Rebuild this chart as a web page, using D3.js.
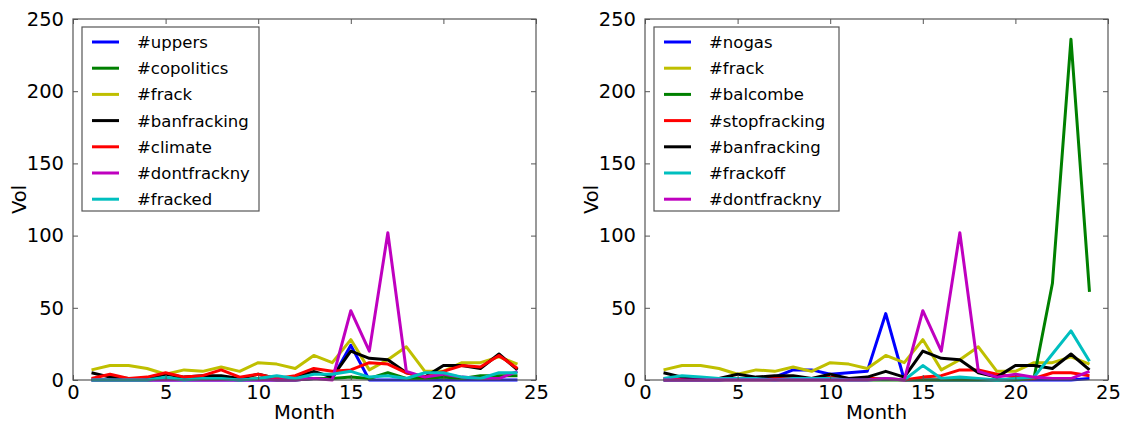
<!DOCTYPE html>
<html>
<head>
<meta charset="utf-8">
<script src="https://cdn.jsdelivr.net/npm/d3@7"></script>
<style>
    body { margin: 0; background: #fff; }
    text { font-family: "DejaVu Sans", sans-serif; }
</style>
</head>
<body>
<script>
document.addEventListener("DOMContentLoaded", function() {

    /* DATA */

    const months = d3.range(1, 25);
    const xTicks = [0, 5, 10, 15, 20, 25];
    const yTicks = [0, 50, 100, 150, 200, 250];

    //Left panel series.
    const uppers = [0,0,0,0,0,0,0,0,0,0,0,0,1,1,24,0,0,0,0,0,0,0,0,0];
    const copolitics = [0,0,0,0,1,1,1,1,0,1,0,0,1,1,2,1,5,1,1,2,1,3,3,3];
    const frack = [7,10,10,8,4,7,6,9,6,12,11,8,17,12,28,7,14,23,6,6,12,12,16,11];
    const banfracking = [5,2,1,1,4,2,3,3,1,4,1,2,6,2,20,15,14,5,2,10,10,8,18,7];
    const climate = [1,4,1,2,5,2,3,7,2,4,1,3,8,6,7,12,11,5,2,6,10,9,17,8];
    const dontfrackny = [0,0,0,0,0,0,0,0,0,0,0,0,1,0,48,20,102,6,2,4,2,1,1,6];
    const fracked = [0,0,0,0,2,0,1,1,0,1,3,1,4,4,6,2,3,1,5,5,2,1,5,5];

    //Right panel series.
    const nogas = [0,0,0,0,1,1,2,7,7,4,5,6,46,0,0,0,0,0,0,0,0,0,0,1];
    const balcombe = [0,0,0,0,0,0,0,0,0,0,0,0,0,0,0,0,0,0,0,0,1,67,236,61];
    const stopfracking = [1,1,1,1,1,1,1,1,1,2,1,1,1,0,2,3,7,7,4,2,1,5,5,3];
    const frackoff = [1,3,2,1,1,1,0,1,1,1,0,0,1,0,10,1,2,1,0,1,2,18,34,13];

    const leftSeries = [
        {name: "#uppers", color: "#0000ff", values: uppers},
        {name: "#copolitics", color: "#008000", values: copolitics},
        {name: "#frack", color: "#bfbf00", values: frack},
        {name: "#banfracking", color: "#000000", values: banfracking},
        {name: "#climate", color: "#ff0000", values: climate},
        {name: "#dontfrackny", color: "#bf00bf", values: dontfrackny},
        {name: "#fracked", color: "#00bfbf", values: fracked}
    ];
    const rightSeries = [
        {name: "#nogas", color: "#0000ff", values: nogas},
        {name: "#frack", color: "#bfbf00", values: frack},
        {name: "#balcombe", color: "#008000", values: balcombe},
        {name: "#stopfracking", color: "#ff0000", values: stopfracking},
        {name: "#banfracking", color: "#000000", values: banfracking},
        {name: "#frackoff", color: "#00bfbf", values: frackoff},
        {name: "#dontfrackny", color: "#bf00bf", values: dontfrackny}
    ];

    /* CONSTANTS */

    const width = 1127;
    const height = 424;
    const top = 19, bottom = 380;
    const tickLen = 5;
    const frameColor = "#555";
    const svg = d3.select("body").append("svg")
    .attr("width", width)
    .attr("height", height);

    /* FUNCTIONS */

    //drawPanel() draws one axes box with its lines, ticks, labels and legend.
    function drawPanel(left, right, series, legendW) {
        const x = d3.scaleLinear().domain([0, 25]).range([left, right]);
        const y = d3.scaleLinear().domain([0, 250]).range([bottom, top]);
        const g = svg.append("g");

        const line = d3.line()
        .x((d, i) => x(months[i]))
        .y((d) => y(d));

        g.selectAll("path.series")
        .data(series)
        .enter()
        .append("path")
        .attr("class", "series")
        .attr("fill", "none")
        .attr("stroke", (d) => d.color)
        .attr("stroke-width", 3)
        .attr("stroke-linejoin", "round")
        .attr("d", (d) => line(d.values));

        //Ticks point inward on all four sides.
        const bottomAxis = g.append("g")
        .attr("transform", `translate(0,${bottom})`)
        .call(d3.axisBottom(x).tickValues(xTicks).tickSizeInner(-tickLen).tickSizeOuter(0).tickPadding(5));
        g.append("g")
        .attr("transform", `translate(0,${top})`)
        .call(d3.axisTop(x).tickValues(xTicks).tickSizeInner(-tickLen).tickSizeOuter(0).tickFormat(""));
        g.append("g")
        .attr("transform", `translate(${left},0)`)
        .call(d3.axisLeft(y).tickValues(yTicks).tickSizeInner(-tickLen).tickSizeOuter(0).tickPadding(9));
        g.append("g")
        .attr("transform", `translate(${right},0)`)
        .call(d3.axisRight(y).tickValues(yTicks).tickSizeInner(-tickLen).tickSizeOuter(0).tickFormat(""));

        g.selectAll(".domain").remove();
        g.selectAll(".tick line").attr("stroke", frameColor);
        g.selectAll(".tick text")
        .attr("fill", "#000")
        .style("font-size", "19.5px")
        .style("font-family", "DejaVu Sans");
        bottomAxis.selectAll(".tick text").attr("dy", "0.71em");

        g.append("rect")
        .attr("x", left)
        .attr("y", top)
        .attr("width", right - left)
        .attr("height", bottom - top)
        .attr("fill", "none")
        .attr("stroke", frameColor)
        .attr("stroke-width", 1.2);

        //Axis titles.
        g.append("text")
        .attr("x", (left + right) / 2)
        .attr("y", 419)
        .attr("text-anchor", "middle")
        .style("font-size", "19.5px")
        .text("Month");

        g.append("text")
        .attr("transform", `translate(${left - 47},${(top + bottom) / 2}) rotate(-90)`)
        .attr("text-anchor", "middle")
        .style("font-size", "19.5px")
        .text("Vol");

        //Legend.
        const lx = left + 9, ly = 27, rowH = 26.2;
        const legend = g.append("g");
        legend.append("rect")
        .attr("x", lx)
        .attr("y", ly)
        .attr("width", legendW)
        .attr("height", 184)
        .attr("fill", "#fff")
        .attr("stroke", frameColor)
        .attr("stroke-width", 1.2);

        const rows = legend.selectAll("g.row")
        .data(series)
        .enter()
        .append("g")
        .attr("class", "row")
        .attr("transform", (d, i) => `translate(${lx},${ly + 15 + i * rowH})`);
        rows.append("line")
        .attr("x1", 10)
        .attr("x2", 37)
        .attr("stroke", (d) => d.color)
        .attr("stroke-width", 3);
        rows.append("text")
        .attr("x", 55)
        .attr("y", 6)
        .style("font-size", "16.5px")
        .text((d) => d.name);
    }

    /* DRAW */

    drawPanel(73, 536, leftSeries, 177);
    drawPanel(645, 1108, rightSeries, 185);
});
</script>
</body>
</html>
